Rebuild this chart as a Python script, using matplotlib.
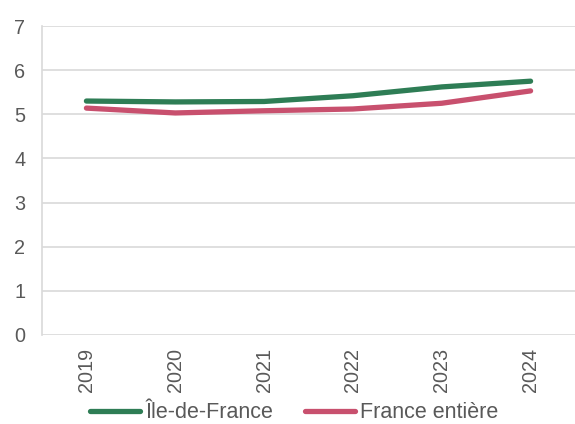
import matplotlib
matplotlib.use("Agg")
import matplotlib.pyplot as plt

years = ["2019", "2020", "2021", "2022", "2023", "2024"]
idf = [5.30, 5.28, 5.29, 5.42, 5.62, 5.75]
france = [5.14, 5.03, 5.08, 5.12, 5.25, 5.53]

plt.rcParams["font.family"] = ["Liberation Sans", "DejaVu Sans"]
text_color = "#595959"
grid_color = "#D9D9D9"

fig = plt.figure(figsize=(5.75, 4.24), dpi=100)
ax = fig.add_axes([42 / 575, 89 / 424, 533 / 575, 309 / 424])

x = list(range(len(years)))
ax.plot(x, idf, color="#2E7D55", lw=3.8, solid_capstyle="round", label="Île-de-France", zorder=3)
ax.plot(x, france, color="#C8506E", lw=3.8, solid_capstyle="round", label="France entière", zorder=3)

ax.set_xlim(-0.5, len(years) - 0.5)
ax.set_ylim(0, 7)
ax.set_yticks(range(0, 8))
ax.set_xticks(x)
ax.set_xticklabels(years, rotation=90, va="top", ha="center")
ax.tick_params(axis="both", length=0, labelsize=14.3, colors=text_color)
ax.tick_params(axis="y", pad=12)
ax.tick_params(axis="x", pad=9)
ax.grid(axis="y", color=grid_color, lw=1.2)
ax.set_axisbelow(True)
for side in ["top", "right", "bottom"]:
    ax.spines[side].set_visible(False)
ax.spines["left"].set_color(grid_color)
ax.spines["left"].set_linewidth(1.2)

leg = fig.legend(loc="center", bbox_to_anchor=(0.512, 11 / 424), ncol=2, frameon=False,
                 fontsize=15.5, handlelength=2.3, handletextpad=0.25, columnspacing=1.5,
                 labelcolor=text_color, borderaxespad=0, borderpad=0)

fig.savefig("out.png", dpi=100)
